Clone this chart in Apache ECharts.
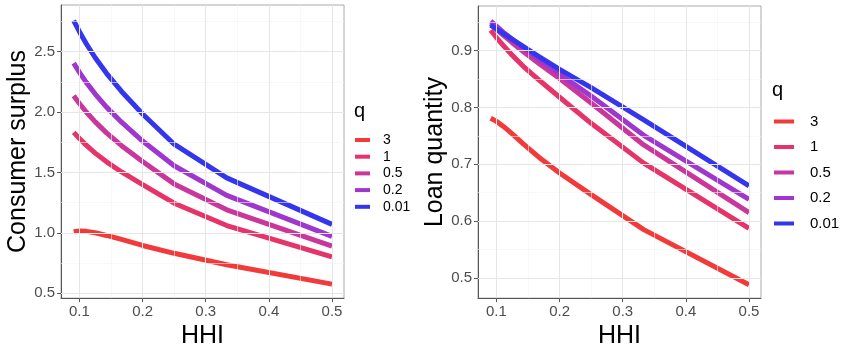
<!DOCTYPE html>
<html>
<head>
<meta charset="utf-8">
<script src="https://cdn.jsdelivr.net/npm/echarts@6/dist/echarts.min.js"></script>
<style>html,body{margin:0;padding:0;background:#fff}#c{width:850px;height:354px}</style>
</head>
<body>
<div id="c"></div>
<script>
// ---- data ----
const hhi = [0.0909, 0.1, 0.1111, 0.125, 0.1429, 0.1667, 0.2, 0.25, 0.3333, 0.5];
const qLevels = ['3', '1', '0.5', '0.2', '0.01'];
const qColors = ['#f23a3a', '#e6346a', '#c9379d', '#9f37cf', '#3535ee'];

const csQ3   = [1.008, 1.015, 1.012, 1.000, 0.978, 0.945, 0.895, 0.830, 0.735, 0.575];
const csQ1   = [1.832, 1.781, 1.724, 1.660, 1.588, 1.504, 1.399, 1.245, 1.060, 0.800];
const csQ05  = [2.135, 2.071, 1.999, 1.919, 1.828, 1.722, 1.590, 1.405, 1.190, 0.890];
const csQ02  = [2.405, 2.329, 2.244, 2.149, 2.041, 1.916, 1.760, 1.555, 1.310, 0.970];
const csQ001 = [2.757, 2.666, 2.564, 2.450, 2.321, 2.171, 1.984, 1.734, 1.455, 1.070];

const lqQ3   = [0.781, 0.7755, 0.7666, 0.7534, 0.7355, 0.7129, 0.6846, 0.6466, 0.585, 0.488];
const lqQ1   = [0.936, 0.923, 0.909, 0.892, 0.872, 0.849, 0.818, 0.772, 0.702, 0.587];
const lqQ05  = [0.948, 0.938, 0.927, 0.914, 0.898, 0.878, 0.851, 0.808, 0.734, 0.615];
const lqQ02  = [0.952, 0.943, 0.932, 0.920, 0.905, 0.885, 0.859, 0.820, 0.751, 0.638];
const lqQ001 = [0.945, 0.938, 0.930, 0.920, 0.907, 0.890, 0.867, 0.835, 0.778, 0.662];

const xTicks = [0.1, 0.2, 0.3, 0.4, 0.5];
const xMinor = [0.15, 0.25, 0.35, 0.45];
const csTicks = [0.5, 1.0, 1.5, 2.0, 2.5];
const csMinor = [0.75, 1.25, 1.75, 2.25, 2.75];
const lqTicks = [0.5, 0.6, 0.7, 0.8, 0.9];
const lqMinor = [0.55, 0.65, 0.75, 0.85, 0.95];

const csSeries = [csQ3, csQ1, csQ05, csQ02, csQ001];
const lqSeries = [lqQ3, lqQ1, lqQ05, lqQ02, lqQ001];

// ---- chart ----
const FONT = 'Liberation Sans, Arial, sans-serif';
const chart = echarts.init(document.getElementById('c'), null, {renderer: 'canvas'});

function gridLines(xMaj, xMin, yMaj, yMin) {
  const d = [];
  xMin.forEach(v => d.push({xAxis: v, lineStyle: {color: '#f3f3f3', width: 0.6, type: 'solid'}}));
  yMin.forEach(v => d.push({yAxis: v, lineStyle: {color: '#f3f3f3', width: 0.6, type: 'solid'}}));
  xMaj.forEach(v => d.push({xAxis: v, lineStyle: {color: '#e6e6e6', width: 1, type: 'solid'}}));
  yMaj.forEach(v => d.push({yAxis: v, lineStyle: {color: '#e6e6e6', width: 1, type: 'solid'}}));
  return d;
}

function xAxisDef(gridIndex) {
  return {
    type: 'value', gridIndex, min: 0.0708, max: 0.519,
    name: 'HHI', nameLocation: 'middle', nameGap: 21,
    nameTextStyle: {fontFamily: FONT, fontSize: 25, color: '#000'},
    axisLine: {show: true, onZero: false, lineStyle: {color: '#555', width: 1}},
    axisTick: {show: true, length: 4, customValues: xTicks, lineStyle: {color: '#555'}},
    axisLabel: {customValues: xTicks, margin: 6, fontFamily: FONT, fontSize: 15, color: '#4d4d4d',
      formatter: v => Number(v).toFixed(1)},
    splitLine: {show: false}
  };
}

function yAxisDef(gridIndex, min, max, ticks, name, gap) {
  return {
    type: 'value', gridIndex, min, max,
    name, nameLocation: 'middle', nameGap: gap,
    nameTextStyle: {fontFamily: FONT, fontSize: 25, color: '#000'},
    axisLine: {show: true, onZero: false, lineStyle: {color: '#555', width: 1}},
    axisTick: {show: true, length: 4, customValues: ticks, lineStyle: {color: '#555'}},
    axisLabel: {customValues: ticks, margin: 6, fontFamily: FONT, fontSize: 15, color: '#4d4d4d',
      formatter: v => Number(v).toFixed(1)},
    splitLine: {show: false}
  };
}

const series = [];
series.push({type: 'line', xAxisIndex: 0, yAxisIndex: 0, data: [], z: 1, silent: true,
  markLine: {silent: true, symbol: ['none', 'none'], label: {show: false}, animation: false,
    data: gridLines(xTicks, xMinor, csTicks, csMinor)}});
series.push({type: 'line', xAxisIndex: 1, yAxisIndex: 1, data: [], z: 1, silent: true,
  markLine: {silent: true, symbol: ['none', 'none'], label: {show: false}, animation: false,
    data: gridLines(xTicks, xMinor, lqTicks, lqMinor)}});

qLevels.forEach((q, i) => {
  series.push({
    name: q, type: 'line', xAxisIndex: 0, yAxisIndex: 0, z: 3,
    data: hhi.map((x, j) => [x, csSeries[i][j]]),
    showSymbol: false, smooth: false,
    color: qColors[i], itemStyle: {color: qColors[i]},
    lineStyle: {width: 5, color: qColors[i], cap: 'butt', join: 'round'}
  });
  series.push({
    name: q, type: 'line', xAxisIndex: 1, yAxisIndex: 1, z: 3,
    data: hhi.map((x, j) => [x, lqSeries[i][j]]),
    showSymbol: false, smooth: false,
    color: qColors[i], itemStyle: {color: qColors[i]},
    lineStyle: {width: 5, color: qColors[i], cap: 'butt', join: 'round'}
  });
});

chart.setOption({
  animation: false,
  backgroundColor: '#fff',
  textStyle: {fontFamily: FONT},
  title: [
    {text: 'q', left: 354, top: 101, textStyle: {fontFamily: FONT, fontSize: 20, fontWeight: 'normal', color: '#000'}, padding: 0},
    {text: 'q', left: 772, top: 80, textStyle: {fontFamily: FONT, fontSize: 20, fontWeight: 'normal', color: '#000'}, padding: 0}
  ],
  grid: [
    {left: 61, top: 5, width: 283, height: 300, show: true, borderColor: '#aaa', borderWidth: 1, backgroundColor: 'transparent'},
    {left: 478, top: 6, width: 283, height: 299, show: true, borderColor: '#aaa', borderWidth: 1, backgroundColor: 'transparent'}
  ],
  xAxis: [xAxisDef(0), xAxisDef(1)],
  yAxis: [
    yAxisDef(0, 0.459, 2.887, csTicks, 'Consumer surplus', 22),
    yAxisDef(1, 0.4644, 0.9786, lqTicks, 'Loan quantity', 30)
  ],
  legend: [
    {orient: 'vertical', left: 355, top: 133, data: qLevels, icon: 'rect', itemWidth: 15, itemHeight: 4,
      itemGap: 2.7, padding: 0, selectedMode: false,
      textStyle: {fontFamily: FONT, fontSize: 14, color: '#000', lineHeight: 14, padding: [0, 0, 0, 8]}},
    {orient: 'vertical', left: 774, top: 114, data: qLevels, icon: 'rect', itemWidth: 20, itemHeight: 4,
      itemGap: 10.5, padding: 0, selectedMode: false,
      textStyle: {fontFamily: FONT, fontSize: 15, color: '#000', lineHeight: 15, padding: [0, 0, 0, 11]}}
  ],
  series
});
</script>
</body>
</html>
